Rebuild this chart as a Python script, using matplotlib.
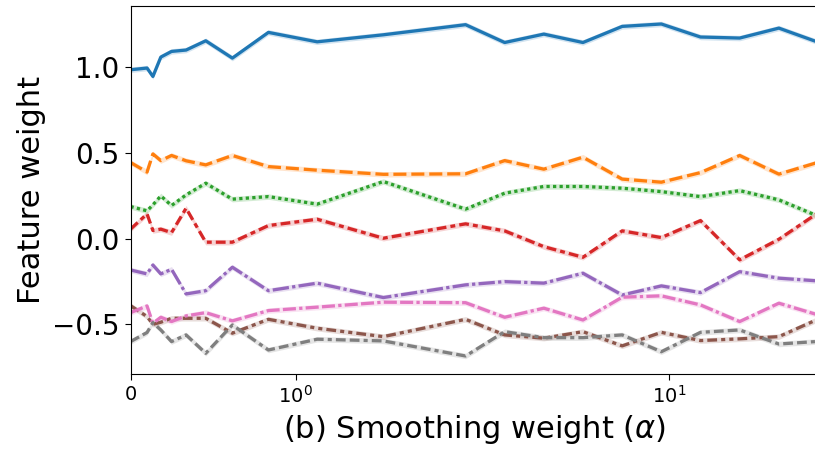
import matplotlib
matplotlib.use("Agg")
import matplotlib.pyplot as plt
import numpy as np

# smoothing weights (alpha): 0 followed by log-spaced values
alpha = [0.0, 0.1, 0.1354, 0.1833, 0.2482, 0.336, 0.455, 0.616, 0.834, 1.129,
         1.529, 2.069, 2.80, 3.79, 5.13, 6.95, 9.41, 12.74, 17.25, 23.36, 31.62]

w_blue = [0.985, 0.995, 0.946, 1.059, 1.092, 1.100, 1.154, 1.053, 1.203, 1.148,
          1.189, 1.248, 1.144, 1.193, 1.144, 1.238, 1.252, 1.176, 1.170, 1.228, 1.146]
w_orange = [0.444, 0.388, 0.494, 0.455, 0.485, 0.454, 0.430, 0.485, 0.420, 0.399,
            0.375, 0.378, 0.455, 0.405, 0.475, 0.347, 0.329, 0.385, 0.485, 0.376, 0.445]
w_green = [0.187, 0.162, 0.197, 0.249, 0.193, 0.255, 0.323, 0.230, 0.245, 0.201,
           0.333, 0.172, 0.265, 0.304, 0.304, 0.294, 0.274, 0.245, 0.280, 0.226, 0.131]
w_red = [0.055, 0.144, 0.047, 0.055, 0.035, 0.177, -0.021, -0.021, 0.076, 0.113,
         0.002, 0.086, 0.045, -0.047, -0.109, 0.045, 0.006, 0.105, -0.124, -0.004, 0.150]
w_purple = [-0.183, -0.206, -0.154, -0.206, -0.179, -0.323, -0.304, -0.167, -0.304, -0.260,
            -0.344, -0.270, -0.251, -0.260, -0.202, -0.329, -0.276, -0.315, -0.193, -0.231, -0.247]
w_brown = [-0.391, -0.455, -0.500, -0.488, -0.465, -0.465, -0.465, -0.552, -0.471, -0.523,
           -0.572, -0.471, -0.562, -0.581, -0.543, -0.626, -0.547, -0.595, -0.585, -0.572, -0.470]
w_pink = [-0.432, -0.393, -0.494, -0.459, -0.484, -0.451, -0.432, -0.480, -0.420, -0.400,
          -0.371, -0.374, -0.459, -0.406, -0.475, -0.342, -0.334, -0.387, -0.484, -0.377, -0.445]
w_grey = [-0.601, -0.548, -0.490, -0.533, -0.601, -0.562, -0.669, -0.504, -0.650, -0.587,
          -0.597, -0.685, -0.543, -0.578, -0.578, -0.562, -0.660, -0.547, -0.533, -0.615, -0.600]

series = [w_blue, w_orange, w_green, w_red, w_purple, w_brown, w_pink, w_grey]
colors = ["#1f77b4", "#ff7f0e", "#2ca02c", "#d62728",
          "#9467bd", "#8c564b", "#e377c2", "#7f7f7f"]
dashes = [(), (4, 1.5), (1, 1), (3, 1.25, 1.5, 1.25), (5, 1, 1, 1),
          (3, 1.25, 1.25, 1.25, 1.25, 1.25), (4, 1, 4, 1, 1, 1),
          (3, 1.25, 3, 1.25, 1.25, 1.25)]
band = 0.016

fig = plt.figure(figsize=(8.15, 4.51), dpi=100)
ax = fig.add_axes([130.5 / 815, 77 / 451, 687.5 / 815, 368 / 451])

x = np.array(alpha)
for ys, c, d in zip(series, colors, dashes):
    y = np.array(ys)
    ax.fill_between(x, y - band, y + band, color=c, alpha=0.2, lw=0)
    line, = ax.plot(x, y, color=c, lw=2.35)
    if d:
        line.set_dashes(d)

ax.set_xscale("symlog", linthresh=2)
ax.set_xlim(0, 31.62)
ax.set_ylim(-0.79, 1.357)
ax.set_yticks([-0.5, 0.0, 0.5, 1.0])
ax.tick_params(axis="y", labelsize=20, length=4.5)
ax.tick_params(axis="x", labelsize=14, length=4.5)
ax.set_ylabel("Feature weight", fontsize=22)
ax.set_xlabel(r"(b) Smoothing weight ($\alpha$)", fontsize=22)

fig.savefig("out.png", dpi=100)
